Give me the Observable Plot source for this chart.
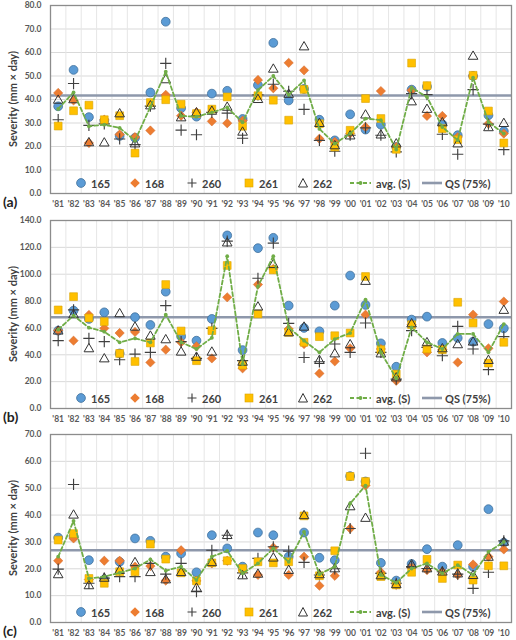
<!DOCTYPE html>
<html><head><meta charset="utf-8">
<script src="https://cdn.jsdelivr.net/npm/d3@7"></script>
<script src="https://cdn.jsdelivr.net/npm/@observablehq/plot@0.6"></script>
<style>
body{margin:0;background:#fff;font-family:Lato,"Open Sans",sans-serif;}
#wrap{width:516px;position:relative;}
.panel{position:relative;width:516px;overflow:hidden;}
.panel svg{display:block;}
.ylab{position:absolute;left:12px;transform:translate(-50%,-50%) rotate(-90deg);font-weight:700;font-size:11px;color:#404040;white-space:nowrap;}
.tag{position:absolute;left:3px;font-size:14px;font-weight:700;color:#222;transform:translateY(-50%);}
.leg{position:absolute;left:0;top:0;width:516px;height:14px;}
.li{position:absolute;top:0;height:14px;display:flex;align-items:center;font-size:11px;font-weight:700;color:#404040;white-space:nowrap;}
</style>
</head><body><div id="wrap"></div>
<script>
const years = [1981,1982,1983,1984,1985,1986,1987,1988,1989,1990,1991,1992,1993,1994,1995,1996,1997,1998,1999,2000,2001,2002,2003,2004,2005,2006,2007,2008,2009,2010];
const seriesNames = ["165","168","260","261","262"];

// Panel (a)
const a165 = [37.1,52.6,32.5,31.0,24.5,23.7,43.0,73.1,36.3,32.7,42.5,43.7,31.7,46.1,64.1,39.6,44.5,31.4,22.6,33.7,27.2,29.3,19.8,44.2,45.5,29.5,24.8,50.0,33.3,26.5];
const a168 = [42.8,39.6,21.5,31.4,25.1,24.0,26.8,42.0,33.1,34.6,30.7,29.9,31.0,48.3,44.8,55.6,52.4,23.3,22.0,25.5,28.3,43.6,19.8,43.9,33.0,33.0,24.0,50.0,29.7,25.5];
const a260 = [31.4,46.8,29.0,29.6,23.2,20.8,37.2,55.4,27.0,25.0,34.5,34.2,23.5,42.0,46.5,43.5,35.8,22.6,18.0,24.8,27.9,24.8,17.7,42.5,42.1,25.2,16.7,44.2,29.5,18.7];
const a261 = [28.7,35.2,37.6,31.4,33.1,17.2,38.7,39.9,38.0,34.0,35.9,41.1,28.6,41.6,39.7,31.2,44.3,29.7,19.8,26.9,40.4,31.9,18.8,55.5,45.9,27.6,22.9,50.3,35.1,21.5];
const a262 = [39.6,39.8,21.5,21.4,33.8,21.0,37.2,48.3,32.1,34.2,34.9,36.6,26.0,39.9,52.8,42.1,62.3,29.7,20.2,24.4,33.3,24.8,21.0,38.9,35.7,30.0,21.0,58.3,27.9,29.7];
const aAvg = [36.0,43.0,28.6,29.3,27.9,22.5,36.9,51.8,33.0,32.7,34.5,36.6,30.3,44.0,50.0,42.0,48.1,27.5,21.2,25.5,31.9,31.2,18.7,45.0,41.1,28.3,22.7,49.3,30.4,25.5];
const aQS = 41.7;

// Panel (b)
const b165 = [58,72.9,66.7,71.6,41,68,62.2,87,53.7,50.5,66.7,128.9,43.5,119.4,127.1,76.6,60,57.5,76.6,99,77.1,48.5,31.1,66.2,68.4,48.8,52.5,49.8,62.9,59.7];
const b168 = [58,50.5,69.7,59.7,56.2,57,34.3,43.8,49.3,46.3,37.3,82.8,29.9,92.3,104,59.2,48,26.1,35.1,44.8,69.9,44.3,20.6,62.4,41.8,43.8,34.3,69.9,44.8,79.6];
const b260 = [50.5,73.4,52.2,49.8,36.3,40.5,41.8,76.6,49.8,37.3,59.7,124.6,35.6,97,123.1,63.4,38,34.8,48,41.8,63.7,41.8,21.9,58,45.5,39.3,61.2,44.3,28.9,53.5];
const b261 = [73.4,83.3,67.4,64.7,41,35,48.8,92.3,57.7,35.6,58,106.5,32.3,70.4,103.2,56.7,49.3,53.5,54.2,56.2,98.3,43.8,25.6,62.4,44.3,43.8,79.1,63.7,33.8,49.3];
const b262 = [57.5,69.7,44.3,36.8,70.4,60.4,53.7,51,41.8,38,41.8,123.1,34.3,75.4,107,56.2,60.4,35.6,40.5,47.3,94.5,40.5,22.6,62.9,48.8,44.3,47.3,49.3,35.6,72.9];
const bAvg = [58.7,69.2,60.2,57.2,49.3,52.2,49.3,69.9,49.3,44.3,52.7,113.4,33.1,91,113.4,60.4,50.5,41.8,51.7,56.2,81.1,41.8,22.4,60.4,49.3,44.3,55.5,55.5,41.8,62.9];
const bQS = 67.9;

// Panel (c)
const c165 = [31.6,32,23.2,16,22.6,31.3,30.4,24.5,25.7,18.7,32.5,27.6,20.8,33.5,32.5,24.5,33.5,24.1,23.2,54.5,52.5,22.2,15.6,21.8,27.3,20.8,28.8,20.8,42.2,29.7];
const c168 = [23,31.3,16,23,23,20.8,21,15.6,26.9,15.5,22,23,19.5,17.7,27.9,17.7,24.5,13.7,17.4,35,51,18.7,14,20.5,19.5,18.9,17.7,21.6,24.5,27.2];
const c260 = [19.9,51.4,14.6,16.5,17.1,17.1,22,18,22,11.5,26.9,32.5,18.5,23.9,28.2,26.6,22.4,17.7,20,35,63,18.3,14.6,20.8,20.1,18.9,18,12.7,18.7,30.4];
const c261 = [30.7,33.1,16.4,14.6,18.9,18.9,29.2,23.6,18.5,15.5,22.2,23,20.1,22.6,22.2,22.6,39.7,17.4,26.7,54.4,52.5,17.1,14,18.7,23.5,16.4,21.4,15.8,21.1,21.1];
const c262 = [17.7,39.9,13.6,16.4,19.3,22.2,18.5,15.8,18.5,12.7,22.2,32.3,17.3,17.9,23.9,19.3,39.7,17.7,19.9,43,38.7,17.3,14,21.4,19.9,18.7,18,17.4,24.2,29.8];
const cAvg = [24.5,37.8,16.4,17.1,18.5,20.1,23.5,19.3,20.8,15.8,24.5,26.7,18.3,22,27.6,22.6,33.7,18,20.8,44.3,51,17.7,14.8,20.1,22,18.3,21.4,17.7,26.3,30];
const cQS = 26.9;

const styles = {
  "165": {symbol: "circle", fill: "#5b9bd5", stroke: "#41719c", strokeWidth: 0.8, r: 4.4},
  "168": {symbol: "diamond2", fill: "#ed7d31", stroke: "#d0692a", strokeWidth: 0.5, r: 4.2},
  "260": {symbol: "plus", fill: "none", stroke: "#404040", strokeWidth: 1.15, r: 3.7},
  "261": {symbol: "square", fill: "#ffc000", stroke: "#d9a300", strokeWidth: 0.6, r: 4.4},
  "262": {symbol: "triangle2", fill: "none", stroke: "#333", strokeWidth: 1, r: 4.6}
};

const panels = [
  {tag: "(a)", series: [a165,a168,a260,a261,a262], avg: aAvg, qs: aQS, ymax: 80, step: 10, h: 213, mt: 5, mb: 20},
  {tag: "(b)", series: [b165,b168,b260,b261,b262], avg: bAvg, qs: bQS, ymax: 140, step: 20, h: 214, mt: 7, mb: 19},
  {tag: "(c)", series: [c165,c168,c260,c261,c262], avg: cAvg, qs: cQS, ymax: 70, step: 10, h: 213, mt: 7, mb: 18}
];

const boundaries = years.map(y => y - 0.5).concat([years[years.length - 1] + 0.5]);
const wrap = document.getElementById("wrap");

panels.forEach(p => {
  const yticks = d3.range(0, p.ymax + p.step / 2, p.step);
  const dotMarks = seriesNames.map((name, k) => {
    const rows = years.map((yr, i) => ({year: yr, v: p.series[k][i]}));
    const s = styles[name];
    return Plot.dot(rows, {x: "year", y: "v", symbol: () => s.symbol, r: s.r, fill: s.fill, stroke: s.stroke, strokeWidth: s.strokeWidth});
  });
  const avgRows = years.map((yr, i) => ({year: yr, v: p.avg[i]}));
  const chart = Plot.plot({
    width: 516, height: p.h,
    marginLeft: 50, marginRight: 5, marginTop: p.mt, marginBottom: p.mb,
    style: {fontFamily: "Lato, 'Open Sans', sans-serif", fontSize: "8.5px", fontWeight: 700, color: "#595959", background: "transparent", overflow: "visible"},
    x: {domain: [boundaries[0], boundaries[boundaries.length - 1]]},
    y: {domain: [0, p.ymax]},
    symbol: {type: "identity"},
    marks: [
      Plot.ruleY(yticks, {stroke: "#d9d9d9", strokeWidth: 1}),
      Plot.ruleX(boundaries, {stroke: "#e6e6e6", strokeWidth: 1}),
      Plot.ruleY([p.qs], {stroke: "#8e98ab", strokeWidth: 2.6}),
      ...dotMarks,
      Plot.line(avgRows, {x: "year", y: "v", stroke: "#70ad47", strokeWidth: 1.8, strokeDasharray: "4,2.5"}),
      Plot.dot(avgRows, {x: "year", y: "v", r: 1.9, fill: "#70ad47"}),
      Plot.frame({stroke: "#8c8c8c", strokeWidth: 1.3}),
      Plot.axisX(years, {tickFormat: d => "'" + String(d).slice(2), tickSize: 0, tickPadding: 7, label: null, fill: "#595959"}),
      Plot.axisY(yticks, {tickFormat: d3.format(".1f"), tickSize: 0, tickPadding: 9, label: null, fill: "#595959"})
    ]
  });
  const div = document.createElement("div");
  div.className = "panel";
  div.style.height = p.h + "px";
  div.appendChild(chart);
  const innerTop = p.mt, innerBottom = p.h - p.mb;
  const yl = document.createElement("div");
  yl.className = "ylab";
  yl.style.top = ((innerTop + innerBottom) / 2) + "px";
  yl.textContent = "Severity (mm \u00d7 day)";
  div.appendChild(yl);
  const tg = document.createElement("div");
  tg.className = "tag";
  tg.style.top = (innerBottom + 8) + "px";
  tg.textContent = p.tag;
  div.appendChild(tg);
  // legend
  const leg = document.createElement("div");
  leg.className = "leg";
  leg.style.top = (innerBottom - 17) + "px";
  const items = [
    {x: 74, label: "165", icon: '<circle cx="7" cy="7" r="4.4" fill="#5b9bd5" stroke="#41719c" stroke-width="0.8"/>', w: 14},
    {x: 128, label: "168", icon: '<path d="M7 2.2L11.8 7L7 11.8L2.2 7Z" fill="#ed7d31"/>', w: 14},
    {x: 185, label: "260", icon: '<path d="M7 2.5V11.5M2.5 7H11.5" stroke="#404040" stroke-width="1.15"/>', w: 14},
    {x: 242, label: "261", icon: '<rect x="3" y="3" width="8" height="8" fill="#ffc000" stroke="#d9a300" stroke-width="0.6"/>', w: 14},
    {x: 296, label: "262", icon: '<path d="M7 2.5L11.5 11H2.5Z" fill="none" stroke="#333" stroke-width="1"/>', w: 14},
    {x: 349, label: "avg. (S)", icon: '<line x1="1" y1="7" x2="22" y2="7" stroke="#70ad47" stroke-width="1.8" stroke-dasharray="4,2.5"/><circle cx="11.5" cy="7" r="1.9" fill="#70ad47"/>', w: 24},
    {x: 422, label: "QS (75%)", icon: '<line x1="0" y1="7" x2="20" y2="7" stroke="#8e98ab" stroke-width="2.6"/>', w: 20}
  ];
  items.forEach(it => {
    const li = document.createElement("div");
    li.className = "li";
    li.style.left = it.x + "px";
    li.innerHTML = '<svg width="' + it.w + '" height="14" style="margin-right:3px">' + it.icon + '</svg><span>' + it.label + '</span>';
    leg.appendChild(li);
  });
  div.appendChild(leg);
  wrap.appendChild(div);
});
</script>
</body></html>
